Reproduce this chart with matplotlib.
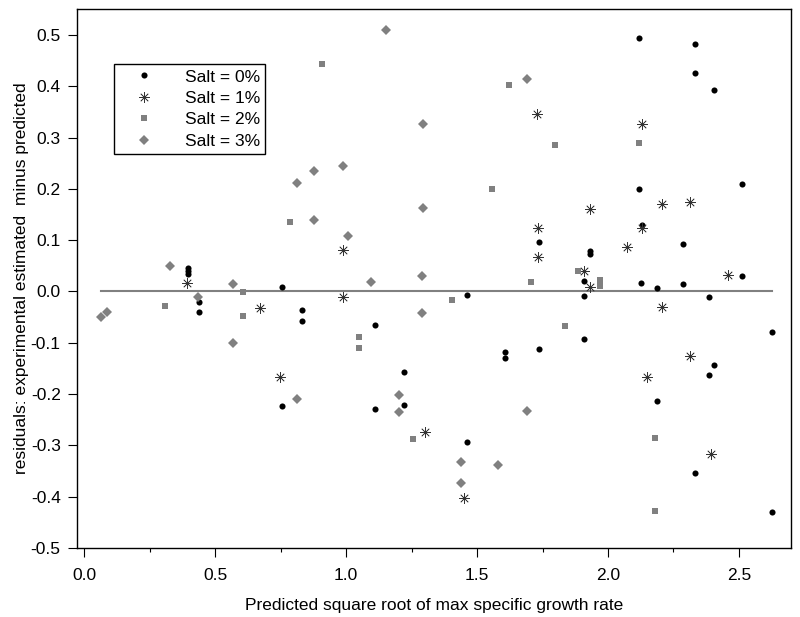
import numpy as np
import matplotlib
matplotlib.use("Agg")
import matplotlib.pyplot as plt
from matplotlib.ticker import MultipleLocator, FormatStrFormatter

plt.rcParams['font.family'] = ['Liberation Sans', 'DejaVu Sans']
plt.rcParams['axes.unicode_minus'] = False

# Salt = 0%
x0 = [0.395, 0.395, 0.395, 0.438, 0.438, 0.754, 0.833, 0.833, 0.756, 1.461,
      1.736, 1.112, 1.608, 1.608, 1.736, 1.222, 1.222, 1.112, 1.461, 2.120,
      2.334, 2.334, 2.405, 2.513, 2.120, 2.129, 2.286, 1.932, 1.932, 1.910,
      2.128, 2.186, 2.286, 2.513, 1.910, 2.386, 1.910, 2.627, 2.405, 2.386,
      2.186, 2.334, 2.627]
y0 = [0.045, 0.039, 0.034, -0.021, -0.040, 0.009, -0.036, -0.057, -0.224, -0.006,
      0.096, -0.065, -0.118, -0.129, -0.112, -0.156, -0.221, -0.229, -0.294, 0.494,
      0.483, 0.426, 0.393, 0.209, 0.199, 0.130, 0.093, 0.078, 0.073, 0.020,
      0.016, 0.007, 0.014, 0.030, -0.008, -0.010, -0.092, -0.079, -0.144, -0.163,
      -0.214, -0.353, -0.429]

# Salt = 1%
x1 = [0.391, 0.671, 0.748, 1.728, 0.987, 1.732, 1.732, 0.987, 1.301, 1.450,
      2.129, 2.207, 2.314, 1.932, 2.129, 2.074, 1.909, 1.932, 2.459, 2.207,
      2.314, 2.148, 2.395]
y1 = [0.016, -0.032, -0.167, 0.346, 0.081, 0.123, 0.067, -0.011, -0.273, -0.403,
      0.327, 0.171, 0.174, 0.161, 0.124, 0.087, 0.040, 0.009, 0.033, -0.030,
      -0.126, -0.167, -0.316]

# Salt = 2%
x2 = [0.786, 0.607, 0.308, 0.607, 0.909, 1.623, 1.557, 1.705, 1.406, 1.048,
      1.048, 1.254, 1.799, 2.120, 1.887, 1.969, 1.969, 1.837, 2.180, 2.180]
y2 = [0.135, -0.001, -0.028, -0.047, 0.444, 0.402, 0.199, 0.018, -0.017, -0.088,
      -0.110, -0.288, 0.285, 0.289, 0.040, 0.023, 0.010, -0.068, -0.286, -0.427]

# Salt = 3%
x3 = [0.328, 0.569, 0.064, 0.086, 0.436, 0.569, 0.814, 0.814, 1.152, 1.692,
      1.295, 0.877, 0.987, 1.295, 0.877, 1.007, 1.096, 1.290, 1.290, 1.202,
      1.202, 1.692, 1.439, 1.579, 1.439]
y3 = [0.049, 0.014, -0.049, -0.040, -0.011, -0.101, -0.210, 0.211, 0.509, 0.415,
      0.326, 0.234, 0.244, 0.162, 0.140, 0.109, 0.018, 0.031, -0.041, -0.202,
      -0.234, -0.232, -0.332, -0.339, -0.374]

labels = ['Salt = 0%', 'Salt = 1%', 'Salt = 2%', 'Salt = 3%']
gray = '#808080'
fs = 12.5

fig = plt.figure(figsize=(8, 6.17), dpi=100)
ax = fig.add_axes([0.0959, 0.1118, 0.8925, 0.8732])

allx = np.concatenate([x0, x1, x2, x3])
ax.plot([allx.min(), allx.max()], [0, 0], color=gray, lw=1.5, zorder=1)

ax.plot(x0, y0, 'o', color='black', ms=4.4, mew=0, label=labels[0], zorder=3)
ax.plot(x1, y1, ls='none', marker=(8, 2, 0), color='#333333', ms=7.5, mew=0.5,
        label=labels[1], zorder=3)
ax.plot(x2, y2, 's', color=gray, ms=4.3, mew=0, label=labels[2], zorder=3)
ax.plot(x3, y3, 'D', color=gray, ms=4.8, mew=0, label=labels[3], zorder=3)

ax.set_xlim(-0.029, 2.698)
ax.set_ylim(-0.5, 0.55)
ax.xaxis.set_major_locator(MultipleLocator(0.5))
ax.xaxis.set_minor_locator(MultipleLocator(0.25))
ax.yaxis.set_major_locator(MultipleLocator(0.1))
ax.xaxis.set_major_formatter(FormatStrFormatter('%.1f'))
ax.yaxis.set_major_formatter(FormatStrFormatter('%.1f'))
ax.tick_params(axis='both', which='major', length=6.5, width=0.8, labelsize=fs)
ax.tick_params(axis='x', which='major', pad=8)
ax.tick_params(axis='y', which='major', pad=5)
ax.tick_params(axis='x', which='minor', length=3, width=0.8)
for s in ax.spines.values():
    s.set_linewidth(1.0)

ax.set_xlabel('Predicted square root of max specific growth rate', fontsize=fs, labelpad=11)
ax.set_ylabel('residuals: experimental estimated  minus predicted', fontsize=fs, labelpad=1)

leg = ax.legend(loc='upper left', bbox_to_anchor=(0.052, 0.898), fontsize=fs,
                frameon=True, fancybox=False, edgecolor='black', framealpha=1,
                borderpad=0.3, labelspacing=0.36, handletextpad=0.9,
                handlelength=2.9, borderaxespad=0)
leg.get_frame().set_linewidth(1.0)

fig.savefig('out.png', dpi=100)
